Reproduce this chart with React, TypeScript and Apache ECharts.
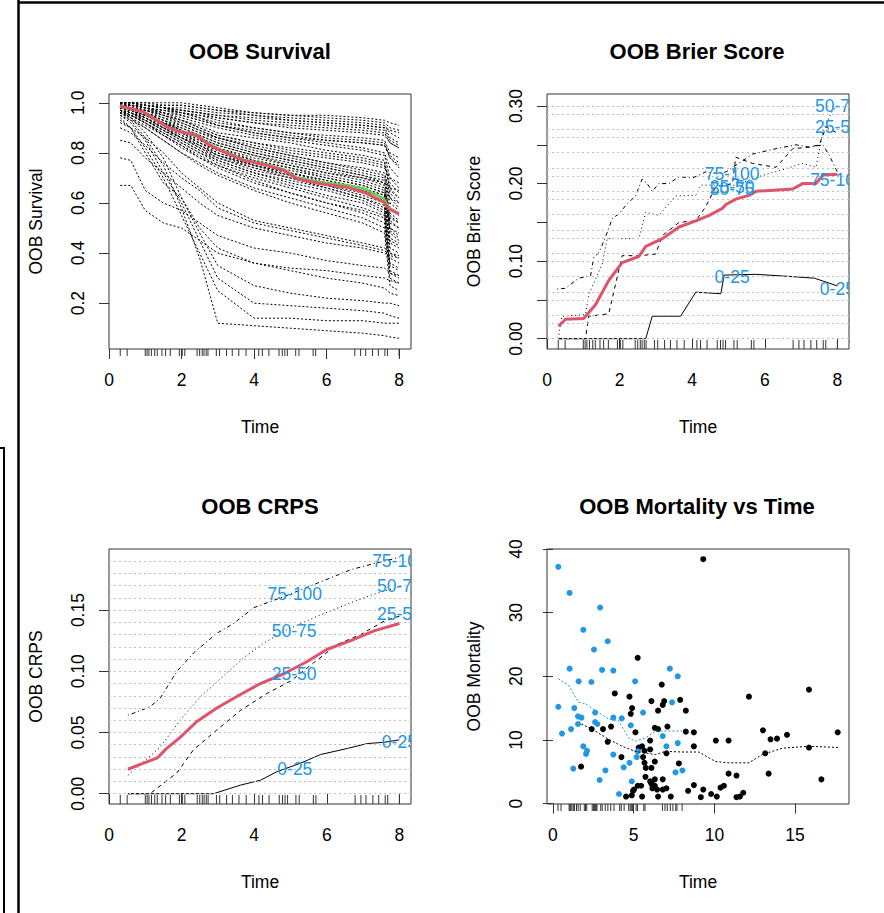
import React, { useEffect, useRef } from 'react';
import * as echarts from 'echarts';

const FONT = '"Liberation Sans", Arial, sans-serif';
const BLUE = '#2297E6';
const RED = '#DF536B';
const GREEN = '#61D04F';

// ---------- event times (rug) ----------
const eventTimes = [0.31, 0.5, 1.0, 1.05, 1.1, 1.17, 1.26, 1.33, 1.46, 1.56, 1.69, 1.94, 2.02, 2.09, 2.43, 2.5, 2.57, 2.62, 2.68, 2.73, 2.96, 3.05, 3.24, 3.4, 3.58, 3.78, 4.13, 4.23, 4.41, 4.69, 4.78, 4.85, 4.92, 5.15, 5.24, 5.63, 5.7, 6.78, 6.94, 7.08, 7.27, 7.43, 7.61, 7.68, 8.0];

// ---------- OOB Survival ----------
const survTimes = [0.31, 0.6, 1.0, 1.5, 2.0, 2.5, 3.0, 4.0, 5.0, 6.0, 7.0, 7.6, 7.75, 8.0];
const survCurves = [
  [1.0, 1.0, 1.0, 1.0, 1.0, 0.99, 0.98, 0.96, 0.95, 0.95, 0.94, 0.93, 0.92, 0.91],
  [1.0, 1.0, 0.99, 0.99, 0.99, 0.98, 0.97, 0.95, 0.94, 0.93, 0.92, 0.91, 0.88, 0.86],
  [0.99, 0.99, 0.99, 0.98, 0.97, 0.96, 0.95, 0.93, 0.92, 0.91, 0.9, 0.89, 0.85, 0.83],
  [1.0, 0.99, 0.98, 0.97, 0.96, 0.95, 0.94, 0.92, 0.9, 0.89, 0.88, 0.87, 0.84, 0.82],
  [0.99, 0.99, 0.98, 0.97, 0.96, 0.94, 0.92, 0.9, 0.88, 0.87, 0.86, 0.85, 0.8, 0.78],
  [1.0, 1.0, 0.99, 0.98, 0.97, 0.96, 0.95, 0.94, 0.93, 0.92, 0.91, 0.9, 0.89, 0.88],
  [0.99, 0.98, 0.97, 0.96, 0.95, 0.93, 0.91, 0.89, 0.87, 0.85, 0.84, 0.83, 0.78, 0.75],
  [1.0, 0.99, 0.99, 0.98, 0.96, 0.94, 0.91, 0.88, 0.86, 0.84, 0.82, 0.8, 0.74, 0.7],
  [0.99, 0.99, 0.98, 0.96, 0.94, 0.92, 0.9, 0.87, 0.85, 0.83, 0.81, 0.79, 0.7, 0.66],
  [0.98, 0.98, 0.97, 0.95, 0.93, 0.91, 0.88, 0.86, 0.84, 0.81, 0.79, 0.77, 0.65, 0.62],
  [0.99, 0.98, 0.96, 0.93, 0.9, 0.87, 0.84, 0.8, 0.77, 0.74, 0.71, 0.68, 0.58, 0.55],
  [0.99, 0.97, 0.95, 0.92, 0.88, 0.85, 0.82, 0.77, 0.74, 0.71, 0.68, 0.65, 0.52, 0.5],
  [0.98, 0.97, 0.94, 0.91, 0.87, 0.83, 0.8, 0.75, 0.72, 0.69, 0.66, 0.63, 0.48, 0.45],
  [0.99, 0.98, 0.96, 0.92, 0.89, 0.86, 0.83, 0.79, 0.75, 0.72, 0.7, 0.67, 0.55, 0.52],
  [0.98, 0.96, 0.93, 0.89, 0.85, 0.81, 0.78, 0.73, 0.7, 0.67, 0.63, 0.6, 0.44, 0.42],
  [0.97, 0.95, 0.92, 0.88, 0.84, 0.8, 0.77, 0.72, 0.68, 0.65, 0.61, 0.57, 0.4, 0.38],
  [0.98, 0.96, 0.94, 0.9, 0.87, 0.84, 0.81, 0.76, 0.73, 0.7, 0.67, 0.64, 0.5, 0.48],
  [0.96, 0.94, 0.91, 0.87, 0.82, 0.78, 0.75, 0.7, 0.66, 0.62, 0.58, 0.55, 0.36, 0.34],
  [0.97, 0.95, 0.92, 0.87, 0.83, 0.79, 0.75, 0.69, 0.64, 0.6, 0.57, 0.54, 0.33, 0.31],
  [0.95, 0.93, 0.9, 0.85, 0.8, 0.76, 0.72, 0.66, 0.62, 0.58, 0.54, 0.5, 0.3, 0.28],
  [0.98, 0.97, 0.95, 0.92, 0.89, 0.86, 0.83, 0.79, 0.76, 0.73, 0.7, 0.68, 0.62, 0.6],
  [0.96, 0.94, 0.9, 0.85, 0.8, 0.75, 0.71, 0.65, 0.6, 0.56, 0.52, 0.48, 0.27, 0.25],
  [0.99, 0.98, 0.96, 0.93, 0.91, 0.88, 0.86, 0.82, 0.79, 0.76, 0.74, 0.72, 0.64, 0.6],
  [0.97, 0.95, 0.93, 0.89, 0.86, 0.83, 0.79, 0.74, 0.71, 0.67, 0.64, 0.61, 0.46, 0.44],
  [0.9, 0.88, 0.83, 0.76, 0.7, 0.65, 0.58, 0.52, 0.49, 0.46, 0.43, 0.41, 0.39, 0.38],
  [0.92, 0.9, 0.86, 0.8, 0.72, 0.66, 0.6, 0.53, 0.5, 0.47, 0.44, 0.42, 0.4, 0.39],
  [0.85, 0.84, 0.78, 0.72, 0.66, 0.6, 0.55, 0.5, 0.47, 0.44, 0.42, 0.4, 0.38, 0.36],
  [0.78, 0.77, 0.65, 0.6, 0.57, 0.52, 0.47, 0.42, 0.4, 0.37, 0.35, 0.34, 0.32, 0.31],
  [0.67, 0.67, 0.57, 0.52, 0.5, 0.45, 0.4, 0.36, 0.34, 0.33, 0.31, 0.3, 0.29, 0.28],
  [0.93, 0.9, 0.8, 0.68, 0.62, 0.5, 0.42, 0.36, 0.33, 0.3, 0.28, 0.26, 0.24, 0.23],
  [0.95, 0.92, 0.85, 0.72, 0.6, 0.45, 0.3, 0.2, 0.19, 0.18, 0.17, 0.16, 0.15, 0.14],
  [0.94, 0.9, 0.82, 0.7, 0.55, 0.4, 0.25, 0.14, 0.14, 0.13, 0.13, 0.12, 0.12, 0.12],
  [0.96, 0.93, 0.86, 0.75, 0.58, 0.38, 0.12, 0.11, 0.1, 0.09, 0.08, 0.07, 0.065, 0.06],
  [0.97, 0.94, 0.88, 0.78, 0.62, 0.48, 0.35, 0.27, 0.24, 0.22, 0.21, 0.2, 0.2, 0.19],
  [1.0, 1.0, 1.0, 0.99, 0.99, 0.98, 0.97, 0.96, 0.95, 0.94, 0.93, 0.92, 0.9, 0.89],
  [1.0, 0.99, 0.98, 0.96, 0.93, 0.9, 0.87, 0.84, 0.82, 0.8, 0.78, 0.76, 0.68, 0.64],
  [0.99, 0.98, 0.97, 0.94, 0.91, 0.88, 0.85, 0.81, 0.78, 0.75, 0.72, 0.7, 0.6, 0.57],
  [0.98, 0.97, 0.95, 0.91, 0.88, 0.84, 0.81, 0.77, 0.74, 0.7, 0.67, 0.64, 0.53, 0.5],
  [1.0, 1.0, 0.99, 0.98, 0.98, 0.97, 0.96, 0.95, 0.93, 0.92, 0.91, 0.9, 0.86, 0.84],
  [0.99, 0.98, 0.96, 0.94, 0.92, 0.89, 0.86, 0.83, 0.8, 0.78, 0.76, 0.74, 0.7, 0.68],
  [0.97, 0.96, 0.93, 0.9, 0.86, 0.82, 0.78, 0.74, 0.7, 0.66, 0.62, 0.59, 0.42, 0.4],
  [0.96, 0.95, 0.92, 0.88, 0.84, 0.8, 0.76, 0.71, 0.67, 0.63, 0.6, 0.56, 0.35, 0.33],
  [0.99, 0.99, 0.98, 0.97, 0.95, 0.93, 0.91, 0.88, 0.86, 0.85, 0.84, 0.83, 0.79, 0.76],
  [0.98, 0.97, 0.95, 0.92, 0.9, 0.87, 0.84, 0.8, 0.77, 0.74, 0.71, 0.69, 0.66, 0.65],
  [1.0, 0.99, 0.98, 0.95, 0.92, 0.89, 0.86, 0.82, 0.79, 0.76, 0.73, 0.71, 0.62, 0.58],
  [0.99, 0.98, 0.96, 0.93, 0.89, 0.85, 0.82, 0.78, 0.75, 0.72, 0.69, 0.66, 0.56, 0.53],
  [0.98, 0.97, 0.94, 0.9, 0.86, 0.82, 0.79, 0.75, 0.71, 0.68, 0.65, 0.62, 0.5, 0.47],
  [0.97, 0.96, 0.93, 0.89, 0.85, 0.81, 0.77, 0.72, 0.69, 0.66, 0.62, 0.58, 0.45, 0.43],
  [1.0, 1.0, 0.99, 0.98, 0.97, 0.96, 0.94, 0.92, 0.91, 0.9, 0.89, 0.88, 0.84, 0.82],
  [1.0, 1.0, 0.99, 0.98, 0.96, 0.95, 0.93, 0.9, 0.88, 0.86, 0.85, 0.84, 0.78, 0.74],
  [0.99, 0.99, 0.97, 0.95, 0.93, 0.9, 0.87, 0.84, 0.81, 0.79, 0.77, 0.75, 0.66, 0.62],
  [0.98, 0.97, 0.95, 0.92, 0.88, 0.84, 0.8, 0.76, 0.72, 0.69, 0.66, 0.63, 0.49, 0.46],
  [0.96, 0.95, 0.92, 0.87, 0.83, 0.78, 0.74, 0.68, 0.64, 0.6, 0.56, 0.52, 0.32, 0.3],
  [0.97, 0.96, 0.94, 0.9, 0.86, 0.83, 0.79, 0.75, 0.72, 0.68, 0.65, 0.62, 0.54, 0.52],
];
const survMeanT = [0.3, 0.95, 1.59, 1.96, 2.42, 2.7, 3.07, 3.71, 4.36, 4.82, 5.18, 5.83, 6.57, 7.03, 7.58, 7.72, 8.0];
const survMeanS = [0.987, 0.964, 0.904, 0.884, 0.87, 0.837, 0.81, 0.77, 0.75, 0.73, 0.697, 0.677, 0.663, 0.643, 0.603, 0.576, 0.556];
const survAltT = [0.3, 0.95, 1.59, 1.96, 2.42, 2.7, 3.07, 3.71, 4.36, 4.82, 5.18, 5.83, 6.57, 7.03, 7.58, 7.72, 8.0];
const survAltS = [0.985, 0.962, 0.905, 0.886, 0.872, 0.84, 0.813, 0.773, 0.753, 0.734, 0.701, 0.683, 0.671, 0.657, 0.617, 0.58, 0.558];

// ---------- OOB Brier ----------
const brierAllT = [0.32, 0.51, 1.01, 1.34, 1.7, 2.07, 2.53, 2.72, 3.18, 3.64, 4.1, 4.47, 4.83, 4.93, 5.2, 5.57, 5.76, 6.77, 7.04, 7.41, 7.6, 8.0];
const brierAllV = [0.016, 0.025, 0.026, 0.044, 0.075, 0.098, 0.106, 0.119, 0.129, 0.144, 0.152, 0.159, 0.168, 0.173, 0.18, 0.185, 0.19, 0.193, 0.2, 0.2, 0.211, 0.212];
const brierQ1T = [0.31, 2.72, 2.9, 3.68, 4.1, 4.79, 4.88, 5.76, 6.77, 7.37, 8.0];
const brierQ1V = [0.0, 0.0, 0.029, 0.029, 0.06, 0.058, 0.082, 0.083, 0.08, 0.078, 0.068];
const brierQ2T = [0.31, 1.06, 1.15, 1.7, 2.07, 2.53, 2.99, 3.18, 3.64, 4.1, 4.37, 4.65, 5.11, 5.2, 5.66, 6.31, 6.77, 7.23, 7.5, 7.69, 8.0];
const brierQ2V = [0.0, 0.0, 0.029, 0.032, 0.107, 0.107, 0.109, 0.133, 0.15, 0.152, 0.17, 0.196, 0.2, 0.234, 0.226, 0.221, 0.245, 0.247, 0.25, 0.273, 0.265];
const brierQ3T = [0.31, 0.41, 1.06, 1.15, 1.52, 1.66, 2.53, 2.72, 3.08, 3.36, 3.55, 4.1, 4.24, 5.2, 5.9, 6.5, 7.04, 7.41, 7.6, 7.87, 8.0];
const brierQ3V = [0.0, 0.029, 0.031, 0.057, 0.096, 0.129, 0.129, 0.163, 0.159, 0.174, 0.184, 0.185, 0.198, 0.198, 0.21, 0.218, 0.226, 0.221, 0.267, 0.295, 0.299];
const brierQ4T = [0.28, 0.51, 0.87, 1.2, 1.29, 1.43, 1.61, 1.8, 1.98, 2.21, 2.44, 2.62, 2.76, 2.9, 3.08, 3.36, 3.64, 4.0, 4.37, 4.74, 4.93, 5.66, 6.31, 6.86, 7.23, 7.6, 7.78, 8.0];
const brierQ4V = [0.064, 0.065, 0.078, 0.081, 0.105, 0.111, 0.131, 0.155, 0.161, 0.174, 0.184, 0.206, 0.2, 0.19, 0.2, 0.2, 0.209, 0.207, 0.215, 0.213, 0.215, 0.238, 0.245, 0.25, 0.247, 0.25, 0.236, 0.215];
const brierLabelText = ['75-100', '50-75', '25-50', '0-25', '50-75', '25-50', '75-100', '0-25'];
const brierLabelT = [5.1, 5.1, 5.1, 5.1, 8.0, 8.0, 8.0, 8.0];
const brierLabelV = [0.212, 0.193, 0.196, 0.08, 0.3, 0.273, 0.205, 0.064];

// ---------- OOB CRPS ----------
const crpsAllT = [0.52, 0.95, 1.32, 1.59, 1.96, 2.42, 2.97, 3.62, 4.17, 4.82, 5.46, 6.01, 6.66, 7.3, 8.0];
const crpsAllV = [0.02, 0.025, 0.029, 0.037, 0.046, 0.059, 0.07, 0.081, 0.09, 0.098, 0.108, 0.118, 0.125, 0.133, 0.139];
const crpsQ1T = [0.52, 2.88, 3.62, 4.17, 4.63, 5.28, 5.83, 6.57, 7.12, 7.58, 8.0];
const crpsQ1V = [0.0, 0.0, 0.007, 0.011, 0.018, 0.025, 0.032, 0.037, 0.041, 0.042, 0.044];
const crpsQ2T = [0.52, 1.13, 1.87, 2.33, 2.97, 3.62, 4.36, 5.0, 5.64, 6.29, 6.93, 7.58, 8.0];
const crpsQ2V = [0.0, 0.0, 0.017, 0.036, 0.052, 0.068, 0.082, 0.092, 0.107, 0.122, 0.13, 0.141, 0.145];
const crpsQ3T = [0.52, 0.95, 1.41, 1.96, 2.51, 3.07, 3.71, 4.26, 4.91, 5.74, 6.66, 7.3, 8.0];
const crpsQ3V = [0.015, 0.026, 0.038, 0.06, 0.079, 0.094, 0.111, 0.123, 0.134, 0.145, 0.156, 0.163, 0.169];
const crpsQ4T = [0.52, 1.13, 1.41, 1.87, 2.33, 2.97, 3.43, 3.99, 4.82, 5.74, 6.66, 7.3, 8.0];
const crpsQ4V = [0.064, 0.071, 0.078, 0.1, 0.115, 0.131, 0.139, 0.152, 0.161, 0.172, 0.183, 0.188, 0.193];
const crpsLabelText = ['75-100', '50-75', '25-50', '0-25', '75-100', '50-75', '25-50', '0-25'];
const crpsLabelT = [5.12, 5.1, 5.1, 5.12, 8.0, 8.0, 8.0, 8.0];
const crpsLabelV = [0.163, 0.133, 0.098, 0.02, 0.19, 0.17, 0.147, 0.042];

// ---------- OOB Mortality vs Time ----------
const blueT = [0.33, 1.03, 2.92, 1.88, 3.39, 2.54, 1.03, 3.04, 3.74, 7.24, 7.73, 1.59, 2.38, 5.09, 7.38, 0.33, 1.32, 2.61, 5.58, 1.55, 1.76, 3.74, 4.26, 2.61, 2.75, 1.55, 4.82, 1.12, 0.56, 6.8, 7.73, 7.03, 1.88, 2.11, 2.05, 3.74, 5.25, 5.19, 4.74, 4.38, 1.26, 3.25, 7.59, 8.02, 2.89, 4.88, 4.09];
const blueM = [37.2, 33.1, 30.8, 27.3, 25.5, 24.2, 21.2, 21.0, 20.9, 21.2, 20.0, 19.2, 19.1, 19.2, 15.9, 15.2, 15.0, 14.3, 14.3, 13.7, 13.5, 13.5, 13.4, 12.8, 12.5, 12.5, 12.3, 11.7, 11.0, 10.6, 9.5, 9.0, 9.0, 8.3, 7.8, 7.7, 8.2, 7.3, 6.4, 5.7, 5.5, 5.2, 4.9, 5.2, 3.7, 3.5, 1.5];
const blackT = [9.31, 5.25, 6.74, 15.86, 12.14, 3.83, 4.74, 7.88, 6.1, 6.89, 6.8, 4.9, 4.82, 6.51, 8.23, 3.6, 7.09, 6.31, 6.51, 2.4, 3.1, 13.01, 17.64, 5.11, 8.23, 8.73, 14.5, 13.88, 13.48, 10.09, 10.88, 6.02, 3.39, 15.86, 5.52, 5.31, 8.73, 6.02, 5.67, 7.03, 13.15, 4.24, 5.58, 6.31, 5.67, 7.8, 5.75, 6.1, 1.74, 13.36, 10.88, 11.37, 5.73, 16.63, 6.31, 6.8, 6.02, 6.1, 8.73, 5.25, 5.46, 10.59, 10.38, 6.31, 6.16, 6.45, 6.8, 7.03, 9.31, 8.37, 5.02, 4.96, 9.8, 11.79, 4.53, 4.88, 5.52, 6.51, 7.3, 9.16, 10.15, 11.37, 11.58];
const blackM = [38.4, 22.9, 18.7, 17.9, 16.8, 17.3, 16.8, 16.3, 16.1, 16.1, 15.5, 15.0, 14.1, 14.6, 14.6, 12.1, 12.1, 11.9, 11.7, 11.7, 11.7, 11.5, 11.2, 11.2, 11.3, 11.2, 10.8, 10.2, 10.1, 9.9, 9.9, 9.9, 9.7, 8.8, 9.0, 8.8, 9.0, 8.5, 8.3, 7.9, 7.9, 7.3, 7.3, 6.6, 6.4, 6.3, 5.6, 5.6, 5.8, 4.7, 4.7, 4.4, 4.2, 3.8, 3.8, 3.8, 3.5, 3.1, 2.9, 2.8, 2.8, 2.8, 2.5, 2.8, 2.4, 2.2, 2.2, 2.4, 2.2, 2.0, 2.2, 2.0, 1.5, 1.7, 1.1, 1.3, 1.1, 1.1, 1.1, 1.0, 1.1, 1.0, 1.1];
const blueSmoothT = [0.33, 0.97, 1.59, 2.0, 2.63, 3.45, 4.07, 4.69, 5.11, 5.73, 6.35, 7.59, 8.0];
const blueSmoothM = [19.6, 18.6, 15.9, 15.7, 14.6, 13.3, 13.0, 10.3, 9.8, 10.3, 11.4, 11.4, 11.4];
const blackSmoothT = [1.76, 2.42, 3.45, 4.28, 5.11, 6.35, 6.97, 8.0, 9.04, 10.07, 10.9, 12.14, 12.97, 14.21, 15.86, 17.72];
const blackSmoothM = [12.5, 11.7, 10.1, 9.0, 8.2, 7.7, 8.2, 8.1, 8.1, 6.6, 6.4, 6.4, 7.7, 8.7, 9.0, 8.8];

// Reference grid lines (R's dotted horizontal guides)
const brierGridMax = 0.3035;
const crpsGridMax = 0.1926;
const guideCount = 20;

const zip = (a: number[], b: number[]) => a.map((v, i) => [v, b[i]]);
const guides = (max: number) => Array.from({ length: guideCount }, (_, i) => ({ yAxis: (max * i) / (guideCount - 1) }));

const txt = { fontSize: 17.5, fontFamily: FONT, color: '#000' };

function rugItem(dir: number, len: number) {
  return (params: any, api: any) => {
    const cs = params.coordSys;
    const x = api.coord([api.value(0), api.value(1)])[0];
    const b = cs.y + cs.height;
    return {
      type: 'line',
      shape: { x1: x, y1: b, x2: x, y2: b + dir * len },
      style: { stroke: '#333', lineWidth: 1 },
    };
  };
}

function labelItem(texts: string[]) {
  return (params: any, api: any) => {
    const p = api.coord([api.value(0), api.value(1)]);
    return {
      type: 'text',
      x: p[0],
      y: p[1],
      style: {
        text: texts[params.dataIndex],
        fill: BLUE,
        fontSize: 17.5,
        fontFamily: FONT,
        align: 'center',
        verticalAlign: 'middle',
        textAlign: 'center',
        textVerticalAlign: 'middle',
      },
    };
  };
}

function xAx(gridIndex: number, min: number, max: number, ticks: number[]) {
  return {
    type: 'value', gridIndex, min, max,
    name: 'Time', nameLocation: 'middle', nameGap: 69, nameTextStyle: txt,
    axisLine: { show: false },
    splitLine: { show: false },
    axisTick: { show: true, length: 10, customValues: ticks, lineStyle: { color: '#333' } },
    axisLabel: { ...txt, margin: 22, customValues: ticks, formatter: (v: number) => String(v) },
  };
}

function yAx(gridIndex: number, name: string, min: number, max: number, ticks: number[], labels: number[], dec: number) {
  return {
    type: 'value', gridIndex, min, max,
    name, nameLocation: 'middle', nameGap: 64, nameRotate: 90, nameTextStyle: txt,
    axisLine: { show: false },
    splitLine: { show: false },
    axisTick: { show: true, length: 10, customValues: ticks, lineStyle: { color: '#333' } },
    axisLabel: { ...txt, margin: 22, rotate: 90, customValues: labels, formatter: (v: number) => v.toFixed(dec) },
  };
}

function line(xi: number, data: number[][], color: string, width: number, type: any, z = 3) {
  return {
    type: 'line', xAxisIndex: xi, yAxisIndex: xi, data, showSymbol: false, symbol: 'none',
    lineStyle: { color, width, type }, z, silent: true,
  };
}

export default function App() {
  const ref = useRef<HTMLDivElement>(null);
  useEffect(() => {
    if (!ref.current) return;
    const chart = echarts.init(ref.current, null, { renderer: 'svg' });
    const grid = (left: number, top: number) => ({
      left, top, width: 302, height: 255, show: true, borderColor: '#333', borderWidth: 1, backgroundColor: 'transparent',
    });
    const series: any[] = [];
    // Panel 1
    survCurves.forEach((c) => series.push(line(0, zip(survTimes, c), '#000', 1, [2, 2], 2)));
    series.push(line(0, zip(survAltT, survAltS), GREEN, 2.5, 'solid', 4));
    series.push(line(0, zip(survMeanT, survMeanS), RED, 3, 'solid', 5));
    series.push({ type: 'custom', xAxisIndex: 0, yAxisIndex: 0, clip: false, renderItem: rugItem(1, 7), data: eventTimes.map((t) => [t, 0.5]), silent: true });
    // Panel 2
    series.push({ type: 'line', xAxisIndex: 1, yAxisIndex: 1, data: [], z: 1, silent: true,
      markLine: { silent: true, symbol: 'none', animation: false, label: { show: false }, lineStyle: { color: '#BEBEBE', type: [2, 3], width: 1 }, data: guides(brierGridMax) } });
    series.push(line(1, zip(brierQ1T, brierQ1V), '#000', 1, 'solid'));
    series.push(line(1, zip(brierQ2T, brierQ2V), '#000', 1, [4, 4]));
    series.push(line(1, zip(brierQ3T, brierQ3V), '#000', 1, [1, 3]));
    series.push(line(1, zip(brierQ4T, brierQ4V), '#000', 1, [1, 3, 4, 3]));
    series.push(line(1, zip(brierAllT, brierAllV), RED, 3, 'solid', 5));
    series.push({ type: 'custom', xAxisIndex: 1, yAxisIndex: 1, clip: false, renderItem: rugItem(-1, 9), data: eventTimes.map((t) => [t, 0.1]), silent: true });
    series.push({ type: 'custom', xAxisIndex: 1, yAxisIndex: 1, clip: true, z: 6, renderItem: labelItem(brierLabelText), data: zip(brierLabelT, brierLabelV), silent: true });
    // Panel 3
    series.push({ type: 'line', xAxisIndex: 2, yAxisIndex: 2, data: [], z: 1, silent: true,
      markLine: { silent: true, symbol: 'none', animation: false, label: { show: false }, lineStyle: { color: '#BEBEBE', type: [2, 3], width: 1 }, data: guides(crpsGridMax) } });
    series.push(line(2, zip(crpsQ1T, crpsQ1V), '#000', 1, 'solid'));
    series.push(line(2, zip(crpsQ2T, crpsQ2V), '#000', 1, [4, 4]));
    series.push(line(2, zip(crpsQ3T, crpsQ3V), '#000', 1, [1, 3]));
    series.push(line(2, zip(crpsQ4T, crpsQ4V), '#000', 1, [1, 3, 4, 3]));
    series.push(line(2, zip(crpsAllT, crpsAllV), RED, 3, 'solid', 5));
    series.push({ type: 'custom', xAxisIndex: 2, yAxisIndex: 2, clip: false, renderItem: rugItem(-1, 9), data: eventTimes.map((t) => [t, 0.1]), silent: true });
    series.push({ type: 'custom', xAxisIndex: 2, yAxisIndex: 2, clip: true, z: 6, renderItem: labelItem(crpsLabelText), data: zip(crpsLabelT, crpsLabelV), silent: true });
    // Panel 4
    series.push({ type: 'scatter', xAxisIndex: 3, yAxisIndex: 3, data: zip(blackT, blackM), symbolSize: 6, itemStyle: { color: '#000', opacity: 1 }, silent: true, z: 3 });
    series.push({ type: 'scatter', xAxisIndex: 3, yAxisIndex: 3, data: zip(blueT, blueM), symbolSize: 6, itemStyle: { color: BLUE, opacity: 1 }, silent: true, z: 3 });
    series.push(line(3, zip(blackSmoothT, blackSmoothM), '#000', 1, [2, 2], 4));
    series.push(line(3, zip(blueSmoothT, blueSmoothM), BLUE, 1, [2, 2], 4));
    series.push({ type: 'custom', xAxisIndex: 3, yAxisIndex: 3, clip: false, renderItem: rugItem(1, 7), data: eventTimes.map((t) => [t, 10]), silent: true });

    const title = (x: number, y: number, text: string) => ({
      type: 'text', x, y, silent: true,
      style: { text, fill: '#000', fontSize: 22, fontWeight: 'bold', fontFamily: FONT, align: 'center', verticalAlign: 'middle', textAlign: 'center', textVerticalAlign: 'middle' },
    });

    chart.setOption({
      animation: false,
      grid: [grid(109, 94), grid(547, 94), grid(109, 549), grid(547, 549)],
      xAxis: [
        xAx(0, 0, 8.33, [0, 2, 4, 6, 8]),
        xAx(1, 0, 8.32, [0, 2, 4, 6, 8]),
        xAx(2, 0, 8.32, [0, 2, 4, 6, 8]),
        xAx(3, -0.37, 18.34, [0, 5, 10, 15]),
      ],
      yAxis: [
        yAx(0, 'OOB Survival', 0.017, 1.035, [0.2, 0.4, 0.6, 0.8, 1.0], [0.2, 0.4, 0.6, 0.8, 1.0], 1),
        yAx(1, 'OOB Brier Score', -0.0133, 0.3155, [0, 0.05, 0.1, 0.15, 0.2, 0.25, 0.3], [0, 0.1, 0.2, 0.3], 2),
        yAx(2, 'OOB CRPS', -0.0084, 0.1999, [0, 0.05, 0.1, 0.15], [0, 0.05, 0.1, 0.15], 2),
        yAx(3, 'OOB Mortality', -0.07, 40, [0, 10, 20, 30, 40], [0, 10, 20, 30, 40], 0),
      ],
      series,
      graphic: [
        title(260, 51, 'OOB Survival'),
        title(697, 51, 'OOB Brier Score'),
        title(260, 506, 'OOB CRPS'),
        title(697, 506, 'OOB Mortality vs Time'),
        { type: 'line', silent: true, shape: { x1: 18.5, y1: 0, x2: 18.5, y2: 913 }, style: { stroke: '#000', lineWidth: 2.5 } },
        { type: 'line', silent: true, shape: { x1: 18, y1: 2.5, x2: 884, y2: 2.5 }, style: { stroke: '#000', lineWidth: 2.5 } },
        { type: 'line', silent: true, shape: { x1: 0, y1: 448, x2: 5, y2: 448 }, style: { stroke: '#000', lineWidth: 2 } },
        { type: 'line', silent: true, shape: { x1: 4, y1: 448, x2: 4, y2: 913 }, style: { stroke: '#000', lineWidth: 2 } },
      ],
    });
    return () => chart.dispose();
  }, []);
  return <div ref={ref} style={{ position: 'fixed', left: 0, top: 0, width: 884, height: 913, background: '#fff' }} />;
}
